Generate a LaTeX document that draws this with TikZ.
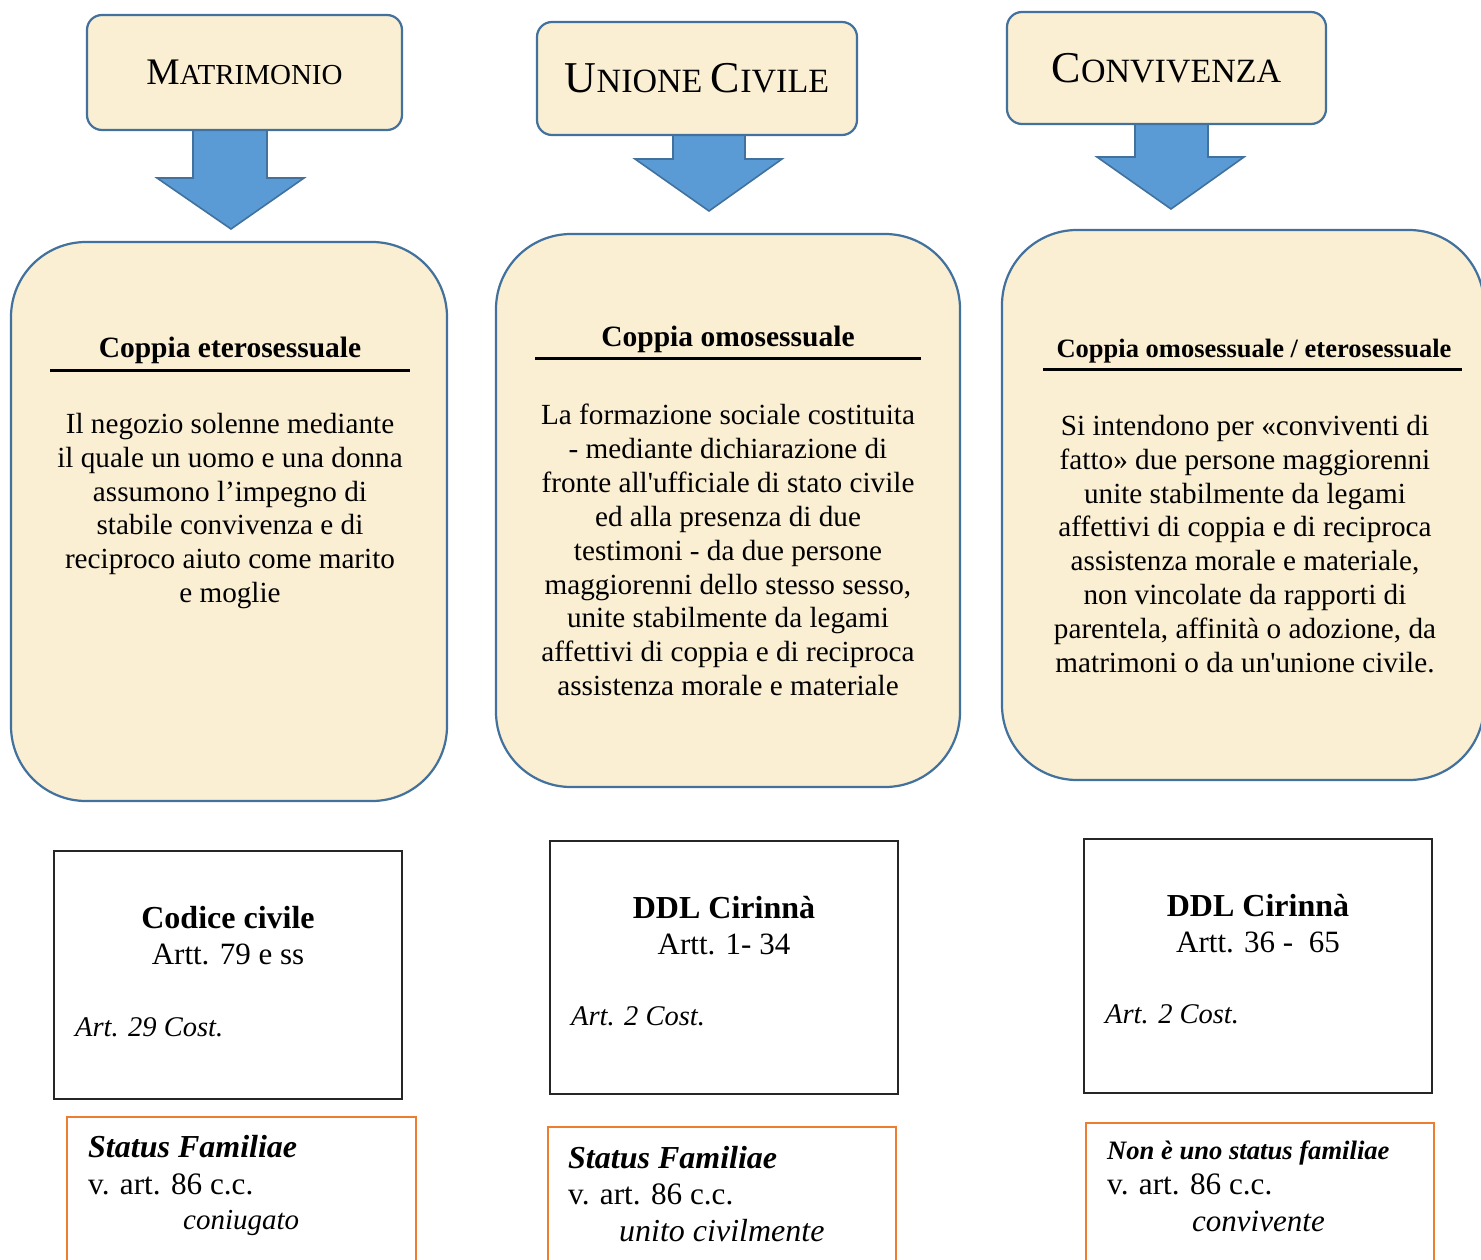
\documentclass[tikz,border=0pt]{standalone}
\usepackage{fontspec}
\setmainfont{Liberation Serif}
\definecolor{parch}{HTML}{FAEED3}
\definecolor{bord}{HTML}{41719C}
\definecolor{arrfill}{HTML}{5B9BD5}
\definecolor{orng}{HTML}{ED7D31}
\newcommand{\fsz}[2]{\fontsize{#1}{#2}\selectfont}
\tikzset{
  topbox/.style={draw=bord, fill=parch, line width=2.2pt, rounded corners=15pt, inner sep=0pt},
  bigbox/.style={draw=bord, fill=parch, line width=2.2pt, rounded corners=75pt, inner sep=0pt},
  blockarrow/.style={fill=arrfill, draw=bord, line width=1.6pt, line join=miter},
  lowbox/.style={draw=black!85, line width=1.2pt, inner sep=0pt},
  orbox/.style={draw=orng, line width=2.4pt, inner sep=0pt},
  hdr/.style={font=\bfseries\fsz{29.5}{34}, inner sep=0pt},
  body/.style={align=center, font=\fsz{29.2}{33.9}, inner sep=0pt},
  uline/.style={line width=3pt},
  txt/.style={inner sep=0pt, anchor=base west}
}
\begin{document}
\begin{tikzpicture}[x=1pt,y=-1pt]
\useasboundingbox (0,0) rectangle (1481,1260);
\clip (0,0) rectangle (1481,1260);
\fill[white] (0,0) rectangle (1481,1260);

% block arrows (drawn first, under the boxes)
\filldraw[blockarrow] (193,125) -- (193,178) -- (157,178) -- (231,229) -- (304,178) -- (267,178) -- (267,125) -- cycle;
\filldraw[blockarrow] (673,130) -- (673,159) -- (635,159) -- (709,211) -- (782,159) -- (745,159) -- (745,130) -- cycle;
\filldraw[blockarrow] (1135,119) -- (1135,157) -- (1097,157) -- (1171,209) -- (1244,157) -- (1208,157) -- (1208,119) -- cycle;

% top boxes
\node[topbox, minimum width=315pt, minimum height=115pt] (t1) at (244.5,72.5)
  {\fsz{37.5}{37.5}M\fsz{29}{29}ATRIMONIO};
\node[topbox, minimum width=320pt, minimum height=113pt] (t2) at (697,78.5)
  {\fsz{44}{44}U\fsz{34}{34}NIONE \fsz{44}{44}C\fsz{34}{34}IVILE};
\node[topbox, minimum width=319pt, minimum height=112pt] (t3) at (1166.5,68)
  {\fsz{44}{44}C\fsz{34}{34}ONVIVENZA};

% big rounded boxes
\node[bigbox, minimum width=436pt, minimum height=559pt] (b1) at (229,521.5) {};
\node[bigbox, minimum width=464pt, minimum height=553pt] (b2) at (728,510.5) {};
\node[bigbox, minimum width=482pt, minimum height=550pt] (b3) at (1243,505) {};

% headers and underlines
\node[hdr] (h1) at (230,350) {Coppia eterosessuale};
\draw[uline] (50,370) -- (410,370);
\node[hdr] (h2) at (728,339) {Coppia omosessuale};
\draw[uline] (535,358) -- (921,358);
\node[hdr, font=\bfseries\fsz{26.5}{30}] (h3) at (1254,351) {Coppia omosessuale / eterosessuale};
\draw[uline] (1043,369) -- (1462,369);

% body texts
\node[body] (d1) at (230,511) {Il negozio solenne mediante\\il quale un uomo e una donna\\assumono l’impegno di\\stabile convivenza e di\\reciproco aiuto come marito\\e moglie};
\node[body] (d2) at (728,550) {La formazione sociale costituita\\- mediante dichiarazione di\\fronte all\textquotesingle ufficiale di stato civile\\ed alla presenza di due\\testimoni - da due persone\\maggiorenni dello stesso sesso,\\unite stabilmente da legami\\affettivi di coppia e di reciproca\\assistenza morale e materiale};
\node[body] (d3) at (1245,544) {Si intendono per «conviventi di\\fatto» due persone maggiorenni\\unite stabilmente da legami\\affettivi di coppia e di reciproca\\assistenza morale e materiale,\\non vincolate da rapporti di\\parentela, affinità o adozione, da\\matrimoni o da un\textquotesingle unione civile.};

% lower boxes
\node[lowbox, minimum width=348pt, minimum height=248pt] (l1) at (228,975) {};
\node[lowbox, minimum width=348pt, minimum height=253pt] (l2) at (724,967.5) {};
\node[lowbox, minimum width=348pt, minimum height=254pt] (l3) at (1258,966) {};

\node[inner sep=0pt, align=center, font=\fsz{31}{36}] (c1) at (228,936) {{\fsz{32}{36}\bfseries Codice civile}\\Artt. 79 e ss};
\node[txt, font=\itshape\fsz{28.5}{28.5}] (k1) at (75,1036) {Art. 29 Cost.};
\node[inner sep=0pt, align=center, font=\fsz{31}{36}] (c2) at (724,926) {{\fsz{32}{36}\bfseries DDL Cirinnà}\\Artt. 1- 34};
\node[txt, font=\itshape\fsz{28.5}{28.5}] (k2) at (571,1025) {Art. 2 Cost.};
\node[inner sep=0pt, align=center, font=\fsz{31}{36}] (c3) at (1258,924) {{\fsz{32}{36}\bfseries DDL Cirinnà}\\Artt. 36 -\ \ 65};
\node[txt, font=\itshape\fsz{28.5}{28.5}] (k3) at (1105,1023) {Art. 2 Cost.};

% orange boxes
\draw[orbox] (67,1117) rectangle (416,1275);
\draw[orbox] (548,1127) rectangle (896,1275);
\draw[orbox] (1086,1123) rectangle (1434,1275);

\node[txt, font=\bfseries\itshape\fsz{32}{32}] (s1) at (88,1157) {Status Familiae};
\node[txt, font=\fsz{31.2}{31.2}] (v1) at (88,1194) {v. art. 86 c.c.};
\node[txt, font=\itshape\fsz{29}{29}] (w1) at (183,1229) {coniugato};

\node[txt, font=\bfseries\itshape\fsz{32}{32}] (s2) at (568,1168) {Status Familiae};
\node[txt, font=\fsz{31.2}{31.2}] (v2) at (568,1204) {v. art. 86 c.c.};
\node[txt, font=\itshape\fsz{32}{32}] (w2) at (619,1241) {unito civilmente};

\node[txt, font=\bfseries\itshape\fsz{26.6}{26.6}] (s3) at (1107,1159) {Non è uno status familiae};
\node[txt, font=\fsz{31.2}{31.2}] (v3) at (1107,1194) {v. art. 86 c.c.};
\node[txt, font=\itshape\fsz{31}{31}] (w3) at (1192,1231) {convivente};
\end{tikzpicture}
\end{document}
